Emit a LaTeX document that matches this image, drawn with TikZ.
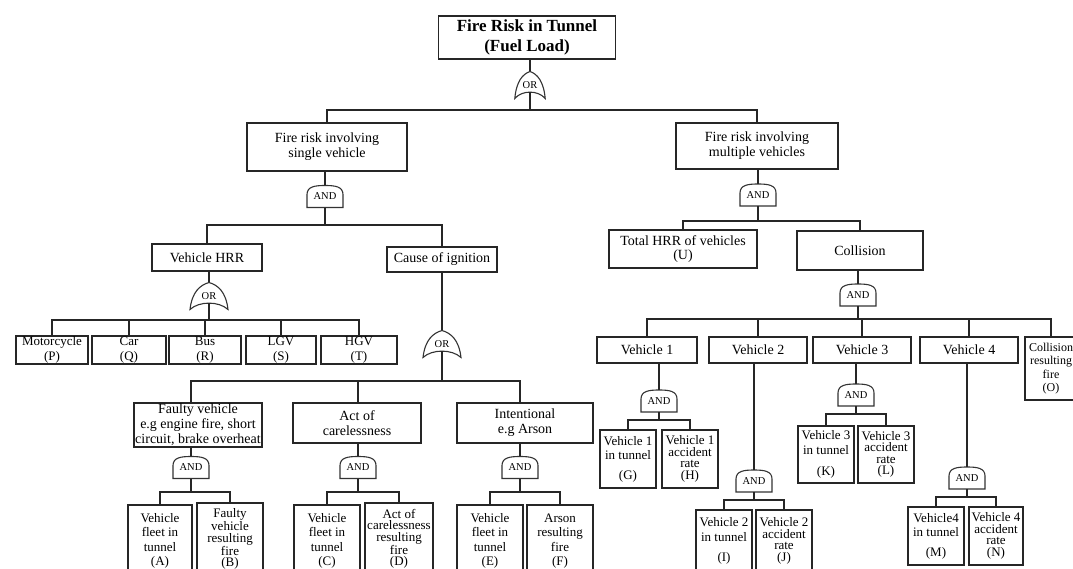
\documentclass[tikz,border=0pt]{standalone}
\usepackage{fontspec}
\setmainfont{Liberation Serif}
\usetikzlibrary{calc}
\tikzset{
  x=1pt, y=-1pt,
  box/.style={draw=black!85, line width=1.8pt, fill=white, inner sep=1pt, align=center,
    font=\fontsize{13}{14.5}\selectfont},
  big/.style={font=\fontsize{14}{14.8}\selectfont},
  tight/.style={font=\fontsize{13}{11.5}\selectfont},
  titlebox/.style={font=\bfseries\fontsize{17}{20}\selectfont},
  wire/.style={draw=black!85, line width=1.6pt},
  gatetext/.style={inner sep=0pt, font=\fontsize{10.5}{10.5}\selectfont},
  gateshape/.style={draw=black!80, line width=1.1pt, fill=white}
}
% AND gate: name, position
\newcommand\andgate[2]{%
  \draw[gateshape, shift={(#2)}] (-18,11) -- (-18,-2)
     .. controls (-18,-10) and (-10,-11) .. (0,-11)
     .. controls (10,-11) and (18,-10) .. (18,-2) -- (18,11) -- cycle;
  \node[gatetext, minimum width=36, minimum height=22] (#1) at (#2) {AND};
}
% OR gate: [xscale] name, position
\newcommand\orgate[3][1]{%
  \draw[gateshape, shift={(#3)}, xscale=#1] (0,-13.5)
     .. controls (9,-11) and (17,-4) .. (19,13.5)
     .. controls (10,5) and (-10,5) .. (-19,13.5)
     .. controls (-17,-4) and (-9,-11) .. (0,-13.5) -- cycle;
  \node[gatetext, minimum width=30, minimum height=27] (#2) at (#3) {OR};
  \coordinate (#2-b) at ($(#2.center)+(0,7)$);
}
\begin{document}
\begin{tikzpicture}
\useasboundingbox (0,0) rectangle (1073,569);
\fill[white] (0,0) rectangle (1073,569);
\clip (0,0) rectangle (1073,569);

% ---------- top ----------
\node[box, titlebox, minimum width=177, minimum height=43] (top) at (527,37.5) {Fire Risk in Tunnel\\(Fuel Load)};
\orgate[0.8]{or0}{530,85}
\coordinate (j0) at (530,110);

\node[box, big, minimum width=160, minimum height=48] (S) at (327,147) {Fire risk involving\\single vehicle};
\node[box, big, minimum width=162, minimum height=46] (M) at (757,146) {Fire risk involving\\multiple vehicles};
\andgate{and1}{325,196.5}
\andgate{and2}{758,195}
\coordinate (j1) at (325,225);
\coordinate (j2) at (758,221);

% ---------- left: single vehicle ----------
\node[box, big, minimum width=110, minimum height=27] (HRR) at (207,257.5) {Vehicle HRR};
\node[box, big, minimum width=110, minimum height=25] (CoI) at (442,259.5) {Cause of ignition};
\orgate{or1}{209,296}
\orgate{or2}{442,344}
\coordinate (j3) at (209,320);
\coordinate (j4) at (442,381);

\node[box, minimum width=72, minimum height=28] (P) at (52,350) {Motorcycle\\(P)};
\node[box, minimum width=74, minimum height=28] (Q) at (129,350) {Car\\(Q)};
\node[box, minimum width=72, minimum height=28] (R) at (205,350) {Bus\\(R)};
\node[box, minimum width=70, minimum height=28] (Sv) at (281,350) {LGV\\(S)};
\node[box, minimum width=76, minimum height=28] (T) at (359,350) {HGV\\(T)};

\node[box, big, minimum width=128, minimum height=44] (Fa) at (198,425) {Faulty vehicle\\e.g engine fire, short\\circuit, brake overheat};
\node[box, big, minimum width=128, minimum height=40] (Ac) at (357,423) {Act of\\carelessness};
\node[box, big, minimum width=136, minimum height=40] (In) at (525,423) {Intentional\\e.g Arson};
\andgate{and4}{191,467.5}
\andgate{and5}{358,467.5}
\andgate{and6}{520,467.5}
\coordinate (j6) at (191,492);
\coordinate (j7) at (358,492);
\coordinate (j8) at (520,492);

\node[box, minimum width=64, minimum height=72] (A) at (160,541) {Vehicle\\fleet in\\tunnel\\(A)};
\node[box, tight, minimum width=66, minimum height=72] (B) at (230,539) {Faulty\\vehicle\\resulting\\fire\\(B)};
\node[box, minimum width=66, minimum height=72] (C) at (327,541) {Vehicle\\fleet in\\tunnel\\(C)};
\node[box, tight, minimum width=68, minimum height=72] (D) at (399,539) {Act of\\carelessness\\resulting\\fire\\(D)};
\node[box, minimum width=66, minimum height=72] (E) at (490,541) {Vehicle\\fleet in\\tunnel\\(E)};
\node[box, minimum width=66, minimum height=72] (F) at (560,541) {Arson\\resulting\\fire\\(F)};

% ---------- right: multiple vehicles ----------
\node[box, big, minimum width=148, minimum height=38] (U) at (683,249) {Total HRR of vehicles\\(U)};
\node[box, big, minimum width=126, minimum height=39] (Co) at (860,250.5) {Collision};
\andgate{and3}{858,295}
\coordinate (j5) at (858,319);

\node[box, big, minimum width=100, minimum height=26] (V1) at (647,350) {Vehicle 1};
\node[box, big, minimum width=98, minimum height=26] (V2) at (758,350) {Vehicle 2};
\node[box, big, minimum width=98, minimum height=26] (V3) at (862,350) {Vehicle 3};
\node[box, big, minimum width=98, minimum height=26] (V4) at (969,350) {Vehicle 4};
\node[box, font=\fontsize{12}{13.5}\selectfont, minimum width=52, minimum height=63] (O) at (1051,368.5) {Collision\\resulting\\fire\\(O)};

\andgate{and7}{659,401}
\coordinate (j9) at (659,420);
\node[box, minimum width=56, minimum height=58] (G) at (628,459) {Vehicle 1\\in tunnel\\[5pt](G)};
\node[box, tight, minimum width=56, minimum height=58] (H) at (690,459) {Vehicle 1\\accident\\rate\\(H)};

\andgate{and8}{754,481}
\coordinate (j10) at (754,500);
\node[box, minimum width=56, minimum height=62] (I) at (724,541) {Vehicle 2\\in tunnel\\[6pt](I)};
\node[box, tight, minimum width=56, minimum height=62] (J) at (784,541) {Vehicle 2\\accident\\rate\\(J)};

\andgate{and9}{856,395}
\coordinate (j11) at (856,414);
\node[box, minimum width=56, minimum height=57] (K) at (826,454.5) {Vehicle 3\\in tunnel\\[7pt](K)};
\node[box, tight, minimum width=56, minimum height=57] (L) at (886,454.5) {Vehicle 3\\accident\\rate\\(L)};

\andgate{and10}{967,478}
\coordinate (j12) at (967,497);
\node[box, minimum width=56, minimum height=58] (Mv) at (936,536) {Vehicle4\\in tunnel\\[5pt](M)};
\node[box, tight, minimum width=54, minimum height=58] (N) at (996,536) {Vehicle 4\\accident\\rate\\(N)};

% ---------- connectors ----------
\draw[wire] (top.south -| or0.north) -- (or0.north);
\draw[wire] (or0-b) -- (j0);
\draw[wire] (j0) -| (S.north);
\draw[wire] (j0) -| (M.north);

\draw[wire] (S.south -| and1.north) -- (and1.north);
\draw[wire] (and1.south) -- (j1);
\draw[wire] (j1) -| (HRR.north);
\draw[wire] (j1) -| (CoI.north);

\draw[wire] (M.south -| and2.north) -- (and2.north);
\draw[wire] (and2.south) -- (j2);
\draw[wire] (j2) -| (U.north);
\draw[wire] (j2) -| (Co.north);

\draw[wire] (HRR.south -| or1.north) -- (or1.north);
\draw[wire] (or1-b) -- (j3);
\foreach \n in {P,Q,R,Sv,T} \draw[wire] (j3) -| (\n.north);

\draw[wire] (CoI.south -| or2.north) -- (or2.north);
\draw[wire] (or2-b) -- (j4);
\draw[wire] (j4) -| (and4.north |- Fa.north);
\draw[wire] (j4) -| (and5.north |- Ac.north);
\draw[wire] (j4) -| (and6.north |- In.north);

\draw[wire] (Fa.south -| and4.north) -- (and4.north);
\draw[wire] (and4.south) -- (j6);
\draw[wire] (j6) -| (A.north);
\draw[wire] (j6) -| (B.north);
\draw[wire] (Ac.south -| and5.north) -- (and5.north);
\draw[wire] (and5.south) -- (j7);
\draw[wire] (j7) -| (C.north);
\draw[wire] (j7) -| (D.north);
\draw[wire] (In.south -| and6.north) -- (and6.north);
\draw[wire] (and6.south) -- (j8);
\draw[wire] (j8) -| (E.north);
\draw[wire] (j8) -| (F.north);

\draw[wire] (Co.south -| and3.north) -- (and3.north);
\draw[wire] (and3.south) -- (j5);
\foreach \n in {V1,V2,V3,V4,O} \draw[wire] (j5) -| (\n.north);

\draw[wire] (V1.south -| and7.north) -- (and7.north);
\draw[wire] (and7.south) -- (j9);
\draw[wire] (j9) -| (G.north);
\draw[wire] (j9) -| (H.north);

\draw[wire] (V2.south -| and8.north) -- (and8.north);
\draw[wire] (and8.south) -- (j10);
\draw[wire] (j10) -| (I.north);
\draw[wire] (j10) -| (J.north);

\draw[wire] (V3.south -| and9.north) -- (and9.north);
\draw[wire] (and9.south) -- (j11);
\draw[wire] (j11) -| (K.north);
\draw[wire] (j11) -| (L.north);

\draw[wire] (V4.south -| and10.north) -- (and10.north);
\draw[wire] (and10.south) -- (j12);
\draw[wire] (j12) -| (Mv.north);
\draw[wire] (j12) -| (N.north);
\end{tikzpicture}
\end{document}
